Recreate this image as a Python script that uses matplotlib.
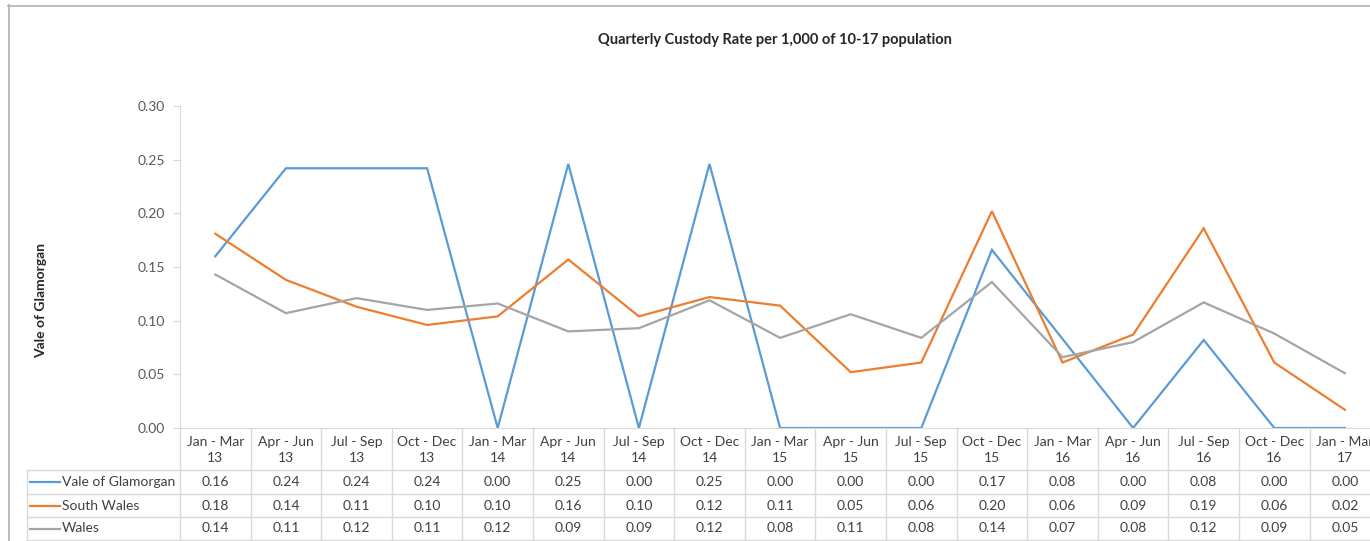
import matplotlib.pyplot as plt
import matplotlib.transforms as mtransforms
from matplotlib.lines import Line2D

# data
quarters = ["Jan - Mar\n13", "Apr - Jun\n13", "Jul - Sep\n13", "Oct - Dec\n13",
            "Jan - Mar\n14", "Apr - Jun\n14", "Jul - Sep\n14", "Oct - Dec\n14",
            "Jan - Mar\n15", "Apr - Jun\n15", "Jul - Sep\n15", "Oct - Dec\n15",
            "Jan - Mar\n16", "Apr - Jun\n16", "Jul - Sep\n16", "Oct - Dec\n16",
            "Jan - Mar\n17"]
vale = [0.160, 0.242, 0.242, 0.242, 0.0, 0.246, 0.0, 0.246, 0.0, 0.0, 0.0,
        0.166, 0.083, 0.0, 0.082, 0.0, 0.0]
south_wales = [0.181, 0.138, 0.113, 0.096, 0.104, 0.157, 0.104, 0.122, 0.114,
               0.052, 0.061, 0.202, 0.061, 0.087, 0.186, 0.061, 0.017]
wales = [0.143, 0.107, 0.121, 0.110, 0.116, 0.090, 0.093, 0.119, 0.084, 0.106,
         0.084, 0.136, 0.066, 0.080, 0.117, 0.088, 0.051]
series_names = ["Vale of Glamorgan", "South Wales", "Wales"]
colors = ["#5B9BD5", "#ED7D31", "#A5A5A5"]

plt.rcParams["font.family"] = ["Lato", "DejaVu Sans"]
W, H = 1370, 541
fig = plt.figure(figsize=(W / 100, H / 100), dpi=100)

def fy(py):
    return 1 - py / H

def fx(px):
    return px / W

# plot area: y axis at x=180px, columns 70.6px wide, y 106..428 px
n = len(quarters)
col_w = 70.6
ax = fig.add_axes([fx(180), fy(428), n * col_w / W, (428 - 106) / H])
xs = list(range(n))
for vals, c, name in zip([vale, south_wales, wales], colors, series_names):
    ax.plot(xs, vals, color=c, lw=1.6, label=name, solid_joinstyle="miter")

ax.set_xlim(-0.5, n - 0.5)
ax.set_ylim(0, 0.30)
ax.set_yticks([0, 0.05, 0.10, 0.15, 0.20, 0.25, 0.30])
ax.set_yticklabels([f"{t:.2f}" for t in ax.get_yticks()])
ax.set_xticks([])
for s in ["top", "right"]:
    ax.spines[s].set_visible(False)
grid_c = "#D9D9D9"
ax.spines["left"].set_color(grid_c)
ax.spines["bottom"].set_color(grid_c)
ax.tick_params(axis="y", colors=grid_c, labelcolor="#595959", labelsize=10,
               length=5, pad=6)

fig.text(fx(775), fy(40), "Quarterly Custody Rate per 1,000 of 10-17 population",
         ha="center", va="center", fontsize=10.5, weight="bold", color="#262626")
fig.text(fx(41), fy(300), "Vale of Glamorgan", rotation=90, ha="center",
         va="center", fontsize=10, weight="bold", color="#262626")

# data table below the axis
trans = mtransforms.blended_transform_factory(ax.transData, fig.transFigure)
row_lines = [470, 494, 517, 540]
line_kw = dict(color=grid_c, lw=1.0, clip_on=False)
for i in range(n + 1):
    fig.add_artist(Line2D([i - 0.5, i - 0.5], [fy(428), fy(541)],
                          transform=trans, **line_kw))
for py in row_lines:
    fig.add_artist(Line2D([fx(27), fx(W + 20)], [fy(py), fy(py)],
                          transform=fig.transFigure, **line_kw))
fig.add_artist(Line2D([fx(27), fx(27)], [fy(470), fy(541)],
                      transform=fig.transFigure, **line_kw))

text_c = "#404040"
for i, q in enumerate(quarters):
    fig.text(i, fy(450), q, transform=trans, ha="center", va="center",
             fontsize=10, color=text_c, linespacing=1.4)

row_centers = [482, 505.5, 528.5]
for vals, c, name, py in zip([vale, south_wales, wales], colors, series_names,
                             row_centers):
    fig.add_artist(Line2D([fx(30), fx(60)], [fy(py), fy(py)],
                          transform=fig.transFigure, color=c, lw=1.6))
    fig.text(fx(62), fy(py), name, ha="left", va="center", fontsize=10,
             color=text_c)
    for i, v in enumerate(vals):
        fig.text(i, fy(py), f"{v:.2f}", transform=trans, ha="center",
                 va="center", fontsize=10, color=text_c)

# outer chart border (top and left visible)
border_c = "#B0B0B0"
fig.add_artist(Line2D([fx(8), 1], [fy(5.5), fy(5.5)], transform=fig.transFigure,
                      color=border_c, lw=1.2))
fig.add_artist(Line2D([fx(8.5), fx(8.5)], [fy(5), 0], transform=fig.transFigure,
                      color=border_c, lw=1.2))

fig.savefig("out.png", dpi=100)
